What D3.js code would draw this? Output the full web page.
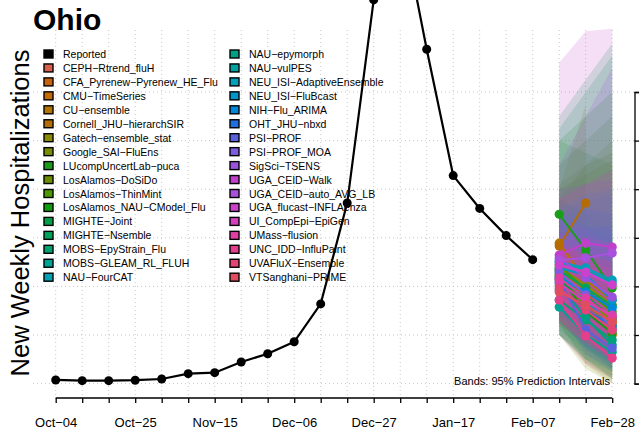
<!DOCTYPE html>
<html>
<head>
<meta charset="utf-8">
<script src="https://cdn.jsdelivr.net/npm/d3@7"></script>
<style>
  body { margin: 0; background: #fff; }
  svg { display: block; font-family: "Liberation Sans", Arial, sans-serif; }
</style>
</head>
<body>
<div id="main"></div>
<script>
// reported weekly hospitalizations (Ohio)
var reportedDates = ["2025-10-04","2025-10-11","2025-10-18","2025-10-25","2025-11-01","2025-11-08",
  "2025-11-15","2025-11-22","2025-11-29","2025-12-06","2025-12-13","2025-12-20","2025-12-27",
  "2026-01-03","2026-01-10","2026-01-17","2026-01-24","2026-01-31","2026-02-07"];
var reported = [15, 12, 12, 14, 19, 41, 45, 89, 123, 172, 328, 743, 1579, 1933, 1376, 856, 721, 609, 510];

var forecastDates = ["2026-02-14","2026-02-21","2026-02-28"];

var models = ["CEPH\u2212Rtrend_fluH","CFA_Pyrenew\u2212Pyrenew_HE_Flu","CMU\u2212TimeSeries","CU\u2212ensemble",
  "Cornell_JHU\u2212hierarchSIR","Gatech\u2212ensemble_stat","Google_SAI\u2212FluEns","LUcompUncertLab\u2212puca",
  "LosAlamos\u2212DoSiDo","LosAlamos\u2212ThinMint","LosAlamos_NAU\u2212CModel_Flu","MIGHTE\u2212Joint",
  "MIGHTE\u2212Nsemble","MOBS\u2212EpyStrain_Flu","MOBS\u2212GLEAM_RL_FLUH","NAU\u2212FourCAT",
  "NAU\u2212epymorph","NAU\u2212vulPES","NEU_ISI\u2212AdaptiveEnsemble","NEU_ISI\u2212FluBcast",
  "NIH\u2212Flu_ARIMA","OHT_JHU\u2212nbxd","PSI\u2212PROF","PSI\u2212PROF_MOA","SigSci\u2212TSENS",
  "UGA_CEID\u2212Walk","UGA_CEID\u2212auto_AVG_LB","UGA_flucast\u2212INFLAenza","UI_CompEpi\u2212EpiGen",
  "UMass\u2212flusion","UNC_IDD\u2212InfluPaint","UVAFluX\u2212Ensemble","VTSanghani\u2212PRIME"];

var modelColors = ["#d9604c","#c8620a","#c46a00","#b37400","#b56c00","#8c8a00","#7b8c00","#1a9e1a",
  "#6b8e00","#4a9a00","#0d9e0d","#00a047","#00a35a","#00a273","#00a393","#00a0b5",
  "#00a084","#00a2a2","#00a0bb","#0096cc","#0087d8","#1f6fe0","#5b60df","#7e5ce0","#9a52dd",
  "#c040cc","#a950de","#cd40cc","#d43fbd","#df3fa3","#e33f8c","#e44376","#e14d60"];

// medians, 95% lower / upper for the 3 forecast weeks
var median = [[426,352,278],[467,385,200],[447,365,253],[578,426,344],[566,743,null],[476,406,323],
  [459,344,262],[697,550,393],[435,323,241],[488,385,295],[443,295,208],[418,360,270],[467,393,319],
  [344,262,179],[315,200,130],[500,467,414],[406,270,159],[451,344,229],[500,476,426],[476,447,344],
  [435,377,311],[385,303,237],[426,221,146],[459,365,221],[517,435,356],[529,578,562],[509,517,537],
  [488,459,406],[414,336,282],[435,352,270],[344,196,105],[393,303,221],[377,323,253]];
var lower = [[300,200,130],[330,220,90],[320,210,110],[420,250,160],[380,420,null],[250,80,0],
  [200,60,0],[450,260,120],[200,100,30],[260,140,60],[240,100,20],[200,120,50],[250,150,80],
  [220,140,80],[200,100,50],[330,250,180],[200,90,20],[260,150,60],[350,280,200],[320,250,150],
  [280,180,100],[250,160,90],[300,120,60],[300,200,90],[320,220,140],[300,250,200],[330,280,240],
  [320,240,160],[260,160,100],[310,220,140],[200,80,20],[260,170,90],[240,170,110]];
var upper = [[600,560,520],[640,650,520],[600,600,560],[760,700,700],[800,1150,null],[760,900,1000],
  [800,860,920],[1000,950,900],[820,900,950],[900,1000,1100],[1000,1100,1200],[1100,1250,1400],[1050,1200,1350],
  [520,450,380],[480,360,300],[720,780,800],[760,700,620],[700,650,600],[700,750,780],[680,720,700],
  [620,640,650],[560,520,500],[600,420,360],[680,640,560],[800,820,840],[1320,1450,1460],[900,1100,1300],
  [760,820,880],[620,600,580],[590,520,470],[560,440,360],[560,500,440],[560,540,500]];

var yTicks = [0, 200, 400, 600, 800, 1000, 1200];

var width = 639, height = 434;
var parse = d3.timeParse("%Y-%m-%d");
var fmt = d3.timeFormat("%b-%d");

var svg = d3.select("#main").append("svg")
    .attr("width", width)
    .attr("height", height);

var x = d3.scaleTime()
    .domain([parse("2025-10-04"), parse("2026-02-28")])
    .range([55.7, 612.2]);

var y = d3.scaleLinear()
    .domain([0, 1200])
    .range([383.6, 92]);

var plotRight = 634.5, axisY = 398, gridTop = 30;
var weekTicks = d3.range(22).map(function(i){ return d3.timeDay.offset(parse("2025-10-04"), 7 * i); });

// grid
svg.append("g").selectAll("line").data(weekTicks).enter().append("line")
    .attr("x1", function(d){ return x(d); }).attr("x2", function(d){ return x(d); })
    .attr("y1", gridTop).attr("y2", axisY)
    .attr("stroke", "#c8c8c8").attr("stroke-width", 1).attr("stroke-dasharray", "1,3");
svg.append("g").selectAll("line").data(yTicks).enter().append("line")
    .attr("x1", 33).attr("x2", plotRight)
    .attr("y1", function(d){ return y(d); }).attr("y2", function(d){ return y(d); })
    .attr("stroke", "#c8c8c8").attr("stroke-width", 1).attr("stroke-dasharray", "1,3");

// x axis
var xAxis = d3.axisBottom(x).tickValues(weekTicks).tickSize(5)
    .tickFormat(function(d, i){ return i % 3 === 0 ? fmt(d).replace("-", "\u2212") : ""; });
var gx = svg.append("g").attr("transform", "translate(0," + axisY + ")").call(xAxis);
gx.select(".domain").attr("stroke", "#000").attr("stroke-width", 1.3)
  .attr("d", "M" + x(weekTicks[0]) + ",0H" + x(weekTicks[weekTicks.length - 1]));
gx.selectAll(".tick line").attr("stroke-width", 1.3);
gx.selectAll(".tick text").attr("font-size", 13).attr("dy", "1.6em").attr("fill", "#000")
  .attr("font-family", "Liberation Sans, Arial, sans-serif");

// y axis on the right, its labels would sit outside the window
var yAxis = d3.axisRight(y).tickValues(yTicks).tickSize(6).tickFormat("");
var gy = svg.append("g").attr("transform", "translate(" + plotRight + ",0)").call(yAxis);
gy.select(".domain").attr("stroke-width", 1.3);
gy.selectAll(".tick line").attr("stroke-width", 1.3);

// bands
var fd = forecastDates.map(parse);
var area = d3.area()
    .defined(function(d){ return d.lo != null; })
    .x(function(d){ return x(d.date); })
    .y0(function(d){ return y(d.lo); })
    .y1(function(d){ return y(d.hi); });
svg.append("g").selectAll("path").data(models).enter().append("path")
    .attr("d", function(m, i){
      return area(fd.map(function(d, j){ return {date: d, lo: lower[i][j], hi: upper[i][j]}; }));
    })
    .attr("fill", function(m, i){ return modelColors[i]; })
    .attr("fill-opacity", 0.17);

svg.append("text")
    .attr("x", 610).attr("y", 385)
    .attr("text-anchor", "end").attr("font-size", 11)
    .text("Bands: 95% Prediction Intervals");

// reported
var line = d3.line()
    .defined(function(d){ return d.v != null; })
    .x(function(d){ return x(d.date); })
    .y(function(d){ return y(d.v); });
var rep = reportedDates.map(function(d, i){ return {date: parse(d), v: reported[i]}; });
svg.append("path").attr("d", line(rep)).attr("fill", "none").attr("stroke", "#000").attr("stroke-width", 2.2);
svg.append("g").selectAll("circle").data(rep).enter().append("circle")
    .attr("cx", function(d){ return x(d.date); }).attr("cy", function(d){ return y(d.v); })
    .attr("r", 4.5).attr("fill", "#000");

// model medians
var mg = svg.append("g").selectAll("g").data(models).enter().append("g");
mg.each(function(m, i){
  var pts = fd.map(function(d, j){ return {date: d, v: median[i][j]}; });
  var g = d3.select(this);
  g.append("path").attr("d", line(pts)).attr("fill", "none")
    .attr("stroke", modelColors[i]).attr("stroke-width", 2);
  g.selectAll("circle").data(pts.filter(function(p){ return p.v != null; })).enter().append("circle")
    .attr("cx", function(p){ return x(p.date); }).attr("cy", function(p){ return y(p.v); })
    .attr("r", 4.6).attr("fill", modelColors[i]);
});

// titles
svg.append("text").attr("x", 33).attr("y", 30)
    .attr("font-size", 30).attr("font-weight", "bold").text("Ohio");
svg.append("text")
    .attr("transform", "translate(29,213) rotate(-90)")
    .attr("text-anchor", "middle").attr("font-size", 25.5)
    .text("New Weekly Hospitalizations");

// legend
var legNames = ["Reported"].concat(models);
var legColors = ["#000"].concat(modelColors);
var leg = svg.append("g").selectAll("g").data(legNames).enter().append("g")
    .attr("transform", function(d, i){
      var col = i < 17 ? 0 : 1, row = i % 17;
      return translate(col === 0 ? 44 : 230, 54 + row * 13.95);
    });
leg.append("rect").attr("x", 0).attr("y", -4).attr("width", 9).attr("height", 8)
    .attr("fill", function(d, i){ return legColors[i]; })
    .attr("stroke", "#000").attr("stroke-width", 1.4);
leg.append("text").attr("x", 19).attr("y", 4).attr("font-size", 10.5).text(function(d){ return d; });

function translate(a, b){ return "translate(" + a + "," + b + ")"; }
</script>
</body>
</html>
